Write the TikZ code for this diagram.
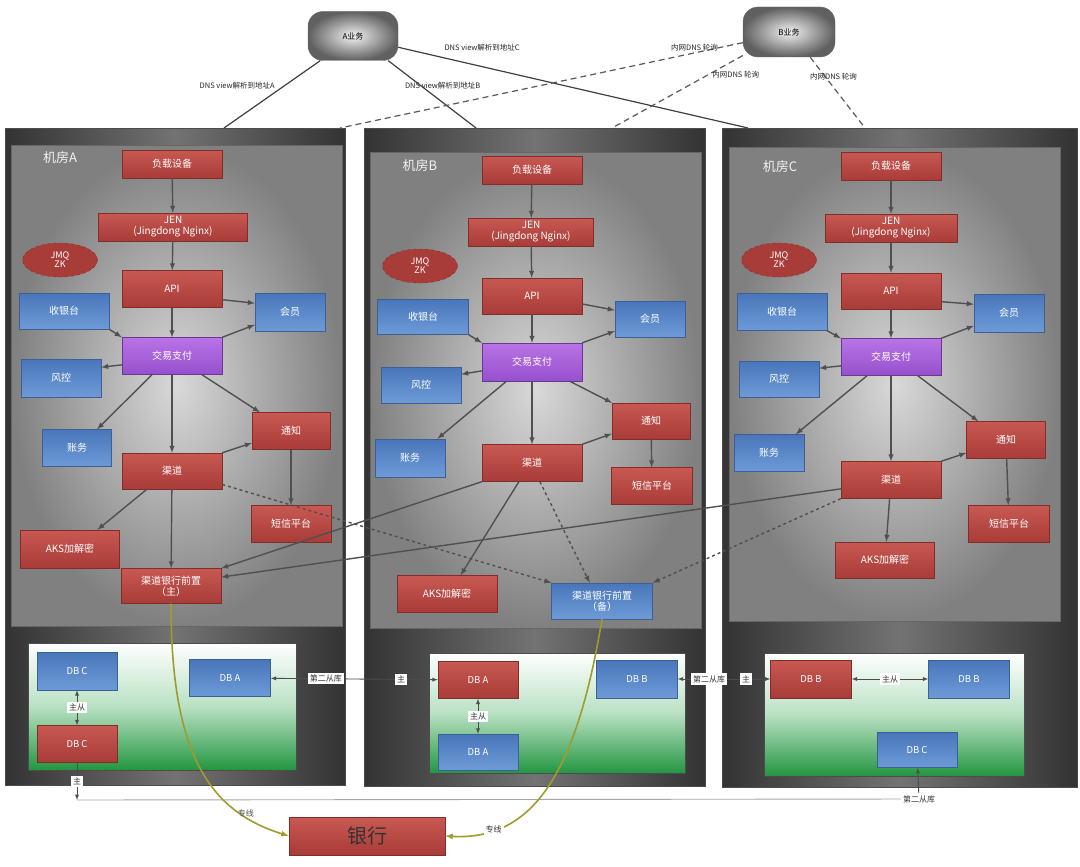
\documentclass[tikz,border=0pt]{standalone}
\usepackage{fontspec}
\setmainfont{Noto Sans CJK SC}
\usepackage{tikz}
\usetikzlibrary{arrows,positioning,shapes.geometric}

\definecolor{redtop}{RGB}{200,88,82}
\definecolor{redbot}{RGB}{168,60,56}
\definecolor{redline}{RGB}{130,45,42}
\definecolor{bluetop}{RGB}{72,118,186}
\definecolor{bluebot}{RGB}{110,155,215}
\definecolor{blueline}{RGB}{60,95,150}
\definecolor{purpletop}{RGB}{185,115,230}
\definecolor{purplebot}{RGB}{150,80,205}
\definecolor{flowgray}{RGB}{80,80,80}
\definecolor{dbgreen}{RGB}{35,150,65}
\definecolor{dbmid}{RGB}{185,225,195}
\definecolor{linkolive}{RGB}{160,155,45}

\begin{document}
\begin{tikzpicture}[x=1pt, y=-1pt, >=latex,
	  font=\fontsize{10}{11}\selectfont,
	  box/.style={rectangle, text=white, inner sep=0pt, align=center, minimum width=100, minimum height=37},
	  redbox/.style={box, draw=redline, top color=redtop, bottom color=redbot},
	  bluebox/.style={box, draw=blueline, top color=bluetop, bottom color=bluebot},
	  purplebox/.style={box, draw=purplebot!70!black, top color=purpletop, bottom color=purplebot},
	  mq/.style={ellipse, draw=redline, dashed, fill=redbot, text=white, minimum width=75, minimum height=34, inner sep=0pt, align=center, font=\fontsize{9}{9}\selectfont},
	  room/.style={draw=black!70, left color=black!80, right color=black!80, middle color=black!55},
	  panel/.style={draw=black!60, shading=radial, inner color=gray!30, outer color=black!50},
	  dbpanel/.style={draw=black!70, top color=white, bottom color=dbgreen, middle color=dbmid},
	  roomlabel/.style={text=gray!10, font=\fontsize{13}{13}\selectfont},
	  biz/.style={rectangle, rounded corners=15, draw=black!60, shading=radial, inner color=gray!10, outer color=gray!75!black, font=\fontsize{8}{8}\selectfont},
	  flow/.style={->, color=flowgray, line width=1.4pt},
	  dnsline/.style={color=black!75, line width=1.2pt},
	  dnsdash/.style={color=black!65, line width=1.2pt, dash pattern=on 6pt off 4pt},
	  dnslabel/.style={text=black!85, font=\fontsize{7.5}{8}\selectfont},
	  dblink/.style={color=black!70, line width=0.9pt},
	  tag/.style={fill=white, text=black!80, inner sep=2pt, font=\fontsize{8}{8}\selectfont},
	  dbbox/.style={font=\fontsize{9.5}{10}\selectfont, minimum width=80, minimum height=37},
	  zhuanxian/.style={->, draw=linkolive, line width=1.6pt}]
	  \useasboundingbox[fill=white] (0,0) rectangle (1080,867);

	  \path[room] (5,128) rectangle (345,785);
	  \path[room] (364,128) rectangle (705,786);
	  \path[room] (722,128) rectangle (1077,787);
	  \path[panel] (11,145) rectangle (342,626);
	  \path[panel] (370,152) rectangle (701,628);
	  \path[panel] (729,147) rectangle (1060,621);
	  \path[dbpanel] (28,643) rectangle (296,770);
	  \path[dbpanel] (429,653) rectangle (685,773);
	  \path[dbpanel] (764,653) rectangle (1024,776);

	  \node[roomlabel] (labelA) at (60,158) {机房A};
	  \node[roomlabel] (labelB) at (420,166) {机房B};
	  \node[roomlabel] (labelC) at (780,167) {机房C};

	  \node[biz, minimum width=90, minimum height=49] (aBiz) at (353,36) {A业务};
	  \node[biz, minimum width=92, minimum height=50] (bBiz) at (789,32) {B业务};
	  \coordinate (dnsA) at (224,128);
	  \coordinate (dnsB) at (476,128);
	  \coordinate (dnsC) at (748,128);
	  \coordinate (innerA) at (340,128);
	  \coordinate (innerB) at (612,128);
	  \coordinate (innerC) at (865,128);

	  \node[redbox, minimum height=28] (aLoad) at (172,164) {负载设备};
	  \node[redbox, minimum width=149, minimum height=28] (aJen) at (173,227) {JEN\\(Jingdong Nginx)};
	  \node[mq] (aMq) at (60,260) {JMQ\\ZK};
	  \node[redbox] (aApi) at (172,289) {API};
	  \node[bluebox, minimum width=90, minimum height=36] (aCash) at (64,311) {收银台};
	  \node[bluebox, minimum width=70, minimum height=38] (aMember) at (290,312) {会员};
	  \node[purplebox] (aPay) at (172,356) {交易支付};
	  \node[bluebox, minimum width=80, minimum height=38] (aRisk) at (61,378) {风控};
	  \node[redbox, minimum width=78] (aNotice) at (291,431) {通知};
	  \node[bluebox, minimum width=69] (aAcct) at (77,448) {账务};
	  \node[redbox, minimum height=36] (aQudao) at (172,471) {渠道};
	  \node[redbox, minimum width=80] (aSms) at (291,524) {短信平台};
	  \node[redbox, minimum width=99, minimum height=38] (aAks) at (70,549) {AKS加解密};
	  \node[redbox, minimum height=35] (aZhu) at (171,586) {渠道银行前置\\（主）};

	  \node[redbox, minimum height=28] (bLoad) at (532,170) {负载设备};
	  \node[redbox, minimum width=125, minimum height=28] (bJen) at (531,232) {JEN\\(Jingdong Nginx)};
	  \node[mq] (bMq) at (420,266) {JMQ\\ZK};
	  \node[redbox, minimum height=36] (bApi) at (532,296) {API};
	  \node[bluebox, minimum width=91, minimum height=35] (bCash) at (423,317) {收银台};
	  \node[bluebox, minimum width=70, minimum height=36] (bMember) at (650,319) {会员};
	  \node[purplebox, minimum height=38] (bPay) at (532,362) {交易支付};
	  \node[bluebox, minimum width=80, minimum height=36] (bRisk) at (421,385) {风控};
	  \node[redbox, minimum width=78, minimum height=36] (bNotice) at (651,421) {通知};
	  \node[bluebox, minimum width=70, minimum height=38] (bAcct) at (410,458) {账务};
	  \node[redbox] (bQudao) at (532,463) {渠道};
	  \node[redbox, minimum width=81] (bSms) at (652,486) {短信平台};
	  \node[redbox] (bAks) at (447,594) {AKS加解密};
	  \node[bluebox, minimum width=101, minimum height=36] (bBei) at (602,601) {渠道银行前置\\（备）};

	  \node[redbox, minimum height=28] (cLoad) at (891,166) {负载设备};
	  \node[redbox, minimum width=132, minimum height=28] (cJen) at (891,228) {JEN\\(Jingdong Nginx)};
	  \node[mq] (cMq) at (779,260) {JMQ\\ZK};
	  \node[redbox, minimum height=36] (cApi) at (891,291) {API};
	  \node[bluebox, minimum width=90] (cCash) at (782,312) {收银台};
	  \node[bluebox, minimum width=70, minimum height=38] (cMember) at (1009,313) {会员};
	  \node[purplebox] (cPay) at (891,357) {交易支付};
	  \node[bluebox, minimum width=80, minimum height=36] (cRisk) at (779,379) {风控};
	  \node[redbox, minimum width=79] (cNotice) at (1006,440) {通知};
	  \node[bluebox, minimum width=70] (cAcct) at (769,453) {账务};
	  \node[redbox] (cQudao) at (891,480) {渠道};
	  \node[redbox, minimum width=81] (cSms) at (1009,524) {短信平台};
	  \node[redbox, minimum width=99, minimum height=36] (cAks) at (885,560) {AKS加解密};

	  \node[bluebox, dbbox, minimum height=38] (aDbC1) at (77,671) {DB C};
	  \node[redbox, dbbox] (aDbC2) at (77,744) {DB C};
	  \node[bluebox, dbbox, minimum width=81] (aDbA) at (230,678) {DB A};
	  \node[redbox, dbbox] (bDbA1) at (478,680) {DB A};
	  \node[bluebox, dbbox, minimum height=36] (bDbA2) at (478,752) {DB A};
	  \node[bluebox, dbbox, minimum width=81, minimum height=38] (bDbB) at (637,679) {DB B};
	  \node[redbox, dbbox, minimum width=81, minimum height=38] (cDbB1) at (811,679) {DB B};
	  \node[bluebox, dbbox, minimum width=81, minimum height=38] (cDbB2) at (969,679) {DB B};
	  \node[bluebox, dbbox, minimum height=35] (cDbC) at (917,750) {DB C};
	  \node[redbox, minimum width=156, minimum height=38, text=black!80, font=\fontsize{20}{20}\selectfont] (bank) at (367,836) {银行};

	  \path[dnsline]
	  (aBiz.217) edge node [dnslabel, pos=0.37, left=6pt] {DNS view解析到地址A} (dnsA)
	  (aBiz.-35) edge node [dnslabel, pos=0.37, xshift=22] {DNS view解析到地址B} (dnsB)
	  (aBiz.-14) edge node [dnslabel, pos=0.24, above=12pt] {DNS view解析到地址C} (dnsC);
	  \path[dnsdash]
	  (bBiz.193) edge node [dnslabel, pos=0.12, yshift=5] {内网DNS 轮询} (innerA)
	  (bBiz.207) edge node [dnslabel, pos=0.1, below=4pt, xshift=6] {内网DNS 轮询} (innerB)
	  (bBiz.-50) edge node [dnslabel, pos=0.28, xshift=8] {内网DNS 轮询} (innerC);

	  \path[flow]
	  (aLoad) edge (aJen)
	  (aJen) edge (aApi)
	  (aApi.-12) edge (aMember.166)
	  (aApi) edge (aPay)
	  (aCash.south east) edge (aPay.north west)
	  (aPay.north east) edge (aMember.200)
	  (aPay.190) edge (aRisk.15)
	  (aPay.223) edge (aAcct.43)
	  (aPay) edge (aQudao)
	  (aPay.-32) edge (aNotice.149)
	  (aQudao.north east) edge (aNotice.197)
	  (aNotice) edge (aSms)
	  (aQudao.216) edge (aAks.35)
	  (aQudao) edge (aZhu);
	  \path[flow]
	  (bLoad) edge (bJen)
	  (bJen) edge (bApi)
	  (bApi.-9) edge (bMember.166)
	  (bApi) edge (bPay)
	  (bCash.south east) edge (bPay.north west)
	  (bPay.north east) edge (bMember.199)
	  (bPay.190) edge (bRisk.15)
	  (bPay.217) edge (bAcct.35)
	  (bPay) edge (bQudao)
	  (bPay.-27) edge (bNotice.155)
	  (bQudao.north east) edge (bNotice.198)
	  (bNotice) edge (bSms)
	  (bQudao.235) edge (bAks.54);
	  \path[flow]
	  (cLoad) edge (cJen)
	  (cJen) edge (cApi)
	  (cApi.-12) edge (cMember.166)
	  (cApi) edge (cPay)
	  (cCash.south east) edge (cPay.north west)
	  (cPay.north east) edge (cMember.200)
	  (cPay.190) edge (cRisk.15)
	  (cPay.218) edge (cAcct.35)
	  (cPay) edge (cQudao)
	  (cPay.-35) edge (cNotice.146)
	  (cQudao.north east) edge (cNotice.198)
	  (cNotice) edge (cSms)
	  (cQudao) edge (cAks);
	  \path[flow]
	  (bQudao.south west) edge (aZhu.north east)
	  (cQudao.190) edge (aZhu.10);
	  \path[flow, dashed]
	  (aQudao.-15) edge (bBei.north west)
	  (bQudao.-67) edge (bBei.124)
	  (cQudao.south west) edge (bBei.north east);

	  \path[dblink, <->]
	  (aDbC1) edge node [tag] {主从} (aDbC2)
	  (aDbA) edge node [tag, pos=0.33] {第二从库} node [tag, pos=0.78] {主} (bDbA1)
	  (bDbA1) edge node [tag] {主从} (bDbA2)
	  (bDbB) edge node [tag, pos=0.34] {第二从库} node [tag, pos=0.74] {主} (cDbB1)
	  (cDbB1) edge node [tag] {主从} (cDbB2);
	  \coordinate (dbTurn) at (77,800);
	  \node[tag] (secondC) at (919,799) {第二从库};
	  \draw[dblink, ->] (aDbC2) -- node [tag] {主} (dbTurn);
	  \draw[dblink, draw=gray!70] (dbTurn) -- (secondC);
	  \draw[dblink, ->] (secondC) -- (cDbC);

	  \draw[zhuanxian] (aZhu.south) .. controls +(0,150) and +(-80,-25) .. node [pos=0.8, yshift=3, text=black!70, font=\fontsize{8}{8}\selectfont] {专线} (bank.west);
	  \draw[zhuanxian] (bBei.south) .. controls +(-25,150) and +(90,5) .. node [pos=0.8, tag] {专线} (bank.east);
	\end{tikzpicture}
\end{document}
